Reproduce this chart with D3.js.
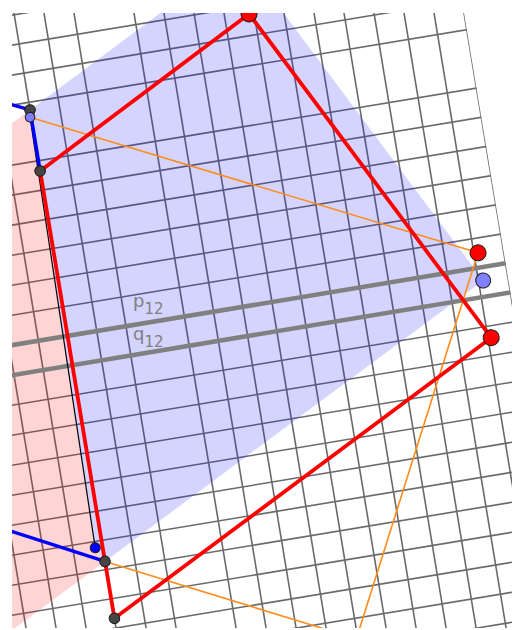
<!DOCTYPE html>
<html>
<head>
<meta charset="utf-8">
<script src="https://cdn.jsdelivr.net/npm/d3@7"></script>
<style>
  html, body { margin: 0; padding: 0; background: #fff; }
  svg { display: block; }
</style>
</head>
<body>
<div id="wrapper"></div>
<script>
// everything is in grid units of the (rotated) geometry view
const gridXs = [-11, -10, -9, -8, -7, -6, -5, -4, -2, -1, 0, 1, 2, 3, 4, 5, 6, 7, 8, 9];
const gridYs = [-9, -8, -7, -6, -5, -4, -3, -2, -1, 0, 1, 2, 3, 4, 5, 6, 7, 8, 9, 10, 11, 13, 14, 15, 16, 17, 18];

const pinkRegion = [[-6, 12.74], [-13.88, 8.7], [-15.95, -7.81], [-6, -2.72], [-6.25, -2.21], [-6.04, 12.5]];
const blueRegion = [[-6, 12.74], [1.84, 16.78], [8.16, 4.55], [-6, -2.72], [-6.25, -2.21], [-6.04, 12.5]];
const redPolygon = [[1.83, 14.73], [8.11, 2.6], [-6, -4.67], [-6, -2.72], [-6, 10.65]];
const blueLines = [
  [[-7.67, 13.53], [-6, 12.74], [-6, 10.65]],
  [[-9.49, -0.92], [-6, -2.72]],
];
const orangeLines = [
  [[-6.04, 12.5], [8.14, 5.5]],
  [[8.14, 5.5], [0.28, -9.98]],
  [[-6, -2.72], [3.13, -7.28]],
];
const blackLine = [[-6.04, 12.5], [-6.25, -2.21]];

const grayLines = [
  { name: "p", sub: "12", y: 5, label: [-3.66, 5.6] },
  { name: "q", sub: "12", y: 4, label: [-3.84, 4.5] },
];
const grayLineXs = [-12, 9];

const points = [
  { x: 1.83, y: 14.73, kind: "red" },
  { x: 8.14, y: 5.5, kind: "red" },
  { x: 8.11, y: 2.6, kind: "red" },
  { x: 8.16, y: 4.55, kind: "lightBig" },
  { x: -6, y: 12.74, kind: "dark" },
  { x: -6.04, y: 12.5, kind: "light" },
  { x: -6, y: 10.65, kind: "dark" },
  { x: -6.25, y: -2.21, kind: "blue" },
  { x: -6, y: -2.72, kind: "dark" },
  { x: -6, y: -4.67, kind: "dark" },
];

const pointStyle = {
  red: { r: 8, fill: "#ff0000" },
  lightBig: { r: 7.5, fill: "#7f7fff" },
  light: { r: 4.8, fill: "#7f7fff" },
  dark: { r: 5.3, fill: "#454545" },
  blue: { r: 5, fill: "#0000ff" },
};

const width = 514;
const height = 630;
const unit = 29.6;
const angle = -9.425;
const origin = [267, 452.9];

const x = d3.scaleLinear().domain([0, 1]).range([0, unit]);
const y = d3.scaleLinear().domain([0, 1]).range([0, -unit]);

const svg = d3
  .select("#wrapper")
  .append("svg")
  .attr("width", width)
  .attr("height", height);

const defs = svg.append("defs");
defs
  .append("clipPath")
  .attr("id", "view")
  .append("rect")
  .attr("x", 12)
  .attr("y", 13)
  .attr("width", 500)
  .attr("height", 615);
defs
  .append("clipPath")
  .attr("id", "right-edge")
  .append("rect")
  .attr("x", x(-40))
  .attr("y", y(40))
  .attr("width", x(9) - x(-40))
  .attr("height", y(-40) - y(40));

const view = svg.append("g").attr("clip-path", "url(#view)");
const plot = view
  .append("g")
  .attr("transform", `translate(${origin}) rotate(${angle})`)
  .attr("clip-path", "url(#right-edge)");

const line = d3
  .line()
  .x((d) => x(d[0]))
  .y((d) => y(d[1]));

// grid
plot
  .append("g")
  .selectAll("line")
  .data(gridXs)
  .join("line")
  .attr("x1", (d) => x(d))
  .attr("x2", (d) => x(d))
  .attr("y1", y(30))
  .attr("y2", y(-30))
  .attr("stroke", "#6a6a6a")
  .attr("stroke-width", 1.6);

plot
  .append("g")
  .selectAll("line")
  .data(gridYs)
  .join("line")
  .attr("x1", x(-30))
  .attr("x2", x(30))
  .attr("y1", (d) => y(d))
  .attr("y2", (d) => y(d))
  .attr("stroke", "#6a6a6a")
  .attr("stroke-width", 1.6);

// shaded regions
plot
  .append("path")
  .attr("d", line(pinkRegion) + "Z")
  .attr("fill", "#ff0000")
  .attr("fill-opacity", 0.17);
plot
  .append("path")
  .attr("d", line(blueRegion) + "Z")
  .attr("fill", "#0000ff")
  .attr("fill-opacity", 0.17);

// p12, q12
plot
  .append("g")
  .selectAll("line")
  .data(grayLines)
  .join("line")
  .attr("x1", x(grayLineXs[0]))
  .attr("x2", x(grayLineXs[1]))
  .attr("y1", (d) => y(d.y))
  .attr("y2", (d) => y(d.y))
  .attr("stroke", "#808080")
  .attr("stroke-width", 4.6);

const labels = plot
  .append("g")
  .selectAll("text")
  .data(grayLines)
  .join("text")
  .attr("transform", (d) => `translate(${x(d.label[0])},${y(d.label[1])}) rotate(${-angle})`)
  .attr("font-family", "DejaVu Sans, sans-serif")
  .attr("font-size", 18)
  .attr("fill", "#808080");
labels.append("tspan").text((d) => d.name);
labels
  .append("tspan")
  .attr("dy", 7)
  .attr("font-size", 15)
  .text((d) => d.sub);

// thin lines
plot
  .append("g")
  .selectAll("path")
  .data(orangeLines)
  .join("path")
  .attr("d", line)
  .attr("fill", "none")
  .attr("stroke", "#ff8c1a")
  .attr("stroke-width", 1.6);

plot
  .append("path")
  .attr("d", line(blackLine))
  .attr("fill", "none")
  .attr("stroke", "#000")
  .attr("stroke-width", 1.2);

// red polygon
plot
  .append("path")
  .attr("d", line(redPolygon) + "Z")
  .attr("fill", "none")
  .attr("stroke", "#ff0000")
  .attr("stroke-width", 3.8)
  .attr("stroke-linejoin", "round");

// blue segments
plot
  .append("g")
  .selectAll("path")
  .data(blueLines)
  .join("path")
  .attr("d", line)
  .attr("fill", "none")
  .attr("stroke", "#0000ff")
  .attr("stroke-width", 3.4)
  .attr("stroke-linejoin", "round");

// points
plot
  .append("g")
  .selectAll("circle")
  .data(points)
  .join("circle")
  .attr("cx", (d) => x(d.x))
  .attr("cy", (d) => y(d.y))
  .attr("r", (d) => pointStyle[d.kind].r)
  .attr("fill", (d) => pointStyle[d.kind].fill)
  .attr("stroke", "#1a1a1a")
  .attr("stroke-width", 1);
</script>
</body>
</html>
